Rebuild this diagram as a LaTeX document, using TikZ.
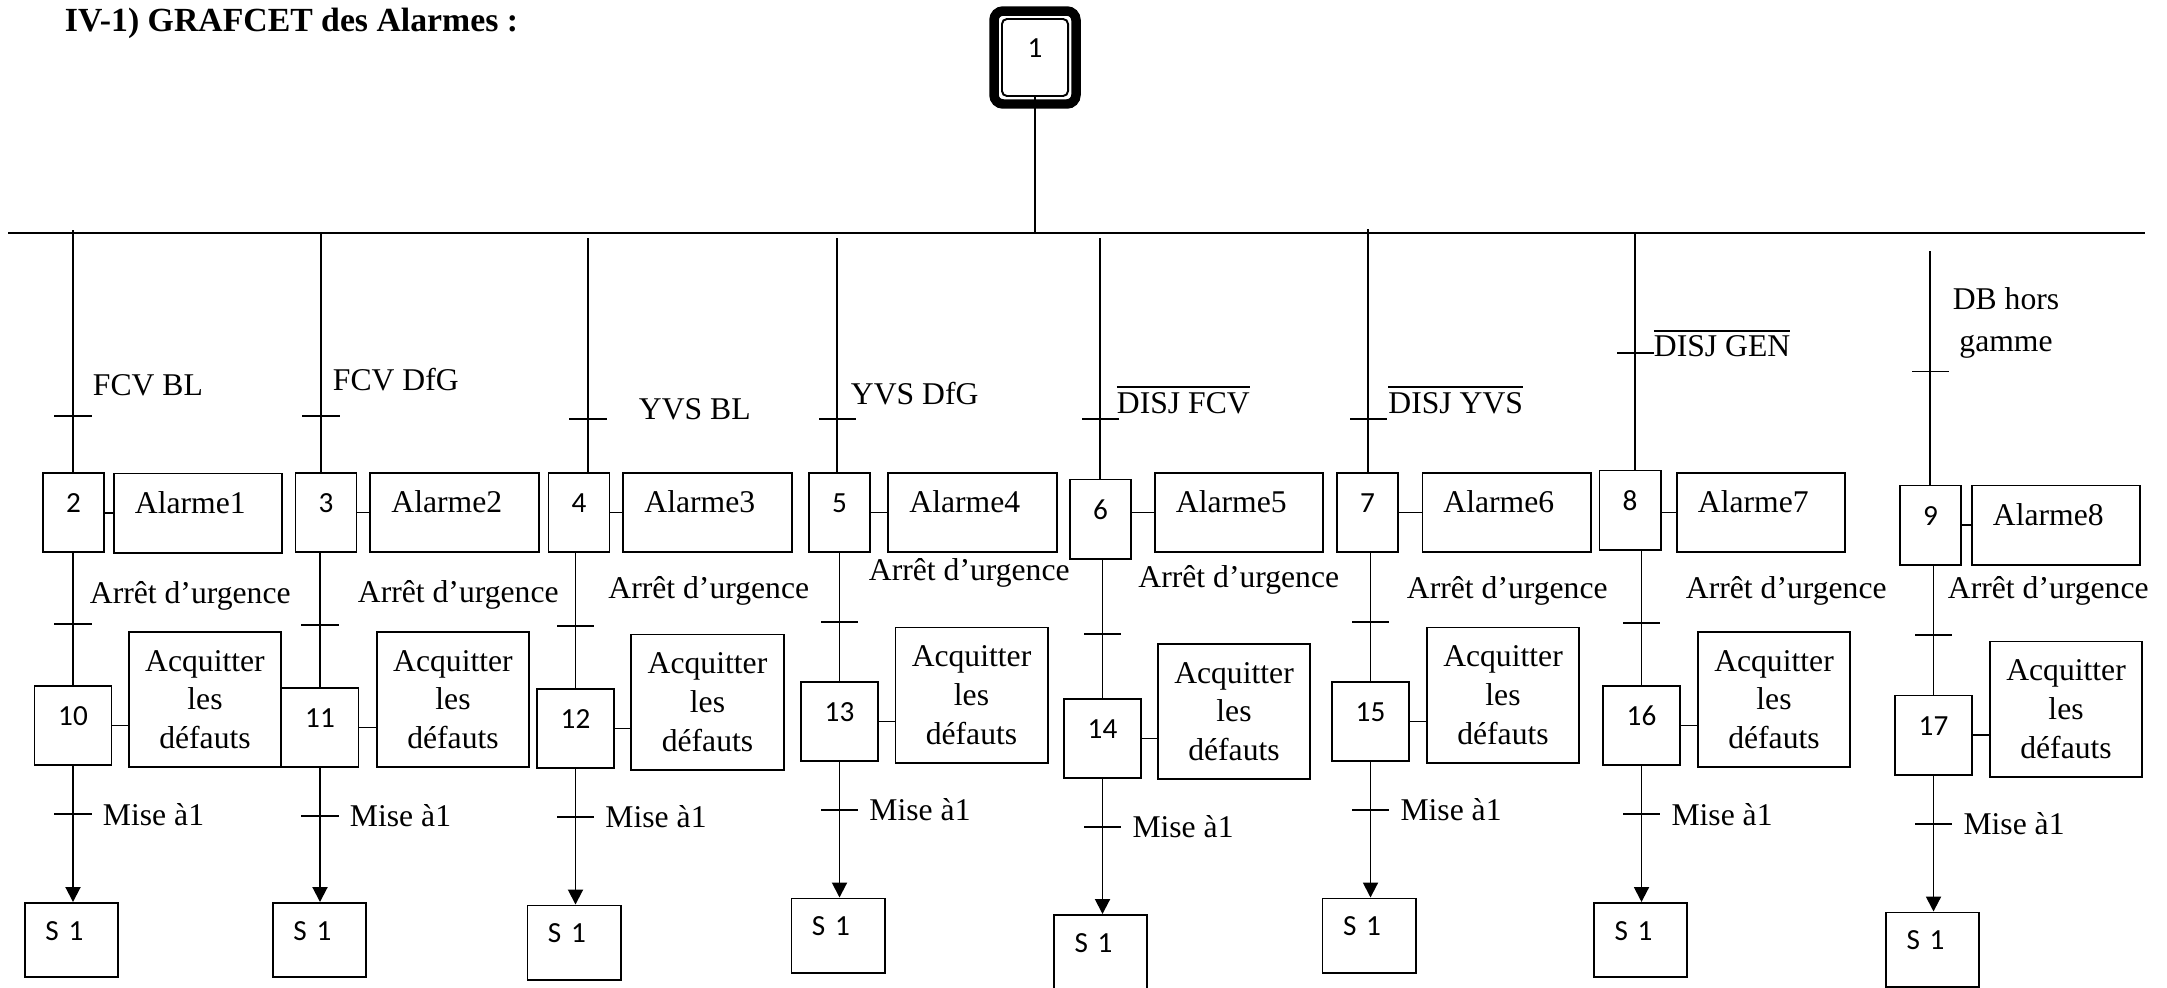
\documentclass[tikz,border=0pt]{standalone}
\usepackage{fontspec}
\setmainfont{Liberation Serif}
\newfontfamily\carlito{Carlito}
\usetikzlibrary{arrows.meta,positioning}

\begin{document}
\begin{tikzpicture}[x=0.01cm,y=-0.01cm,line width=0.55pt,font=\fontsize{9}{11}\selectfont,
    etape/.style={draw,minimum width=0.61cm,minimum height=0.79cm,inner sep=0pt,
      font=\carlito\fontsize{8.3}{10}\selectfont,text height=5.5pt,text depth=5.5pt},
    etapeb/.style={etape,minimum width=0.77cm},
    action/.style={draw,minimum width=1.68cm,minimum height=0.79cm,inner sep=0pt,
      text width=1.26cm,align=left,text height=6pt,text depth=6pt},
    acquit/.style={draw,minimum width=1.52cm,minimum height=1.35cm,inner sep=0pt,align=center},
    sortie/.style={etape,minimum width=0.93cm,minimum height=0.74cm,text width=0.52cm,align=left},
    trans/.style={fill,minimum width=0.37cm,minimum height=0.55pt,inner sep=0pt,outer sep=0pt},
    txt/.style={inner sep=0pt,anchor=base west}]
    \useasboundingbox (0,0) rectangle (2167,987);
    \node[txt,font=\bfseries\fontsize{9.6}{11}\selectfont] (titre) at (64,31.7) {IV-1) GRAFCET des Alarmes :};
    % etape initiale + divergence
    \node[etape,rounded corners=0.05cm,minimum width=0.66cm,minimum height=0.77cm] (e1) at (1035,57.5) {1};
    \draw[line width=2.7pt,rounded corners=0.09cm] ([shift={(-7,-7)}]e1.north west) rectangle ([shift={(7,7)}]e1.south east);
    \coordinate (bg) at (8,232.7);
    \coordinate (bd) at (2145,232.7);
    \draw (bg) -- (bd);
    \draw (e1.south) -- (e1.south |- bg);
    % alarmes
    \node[etape] (e2) at (73.5,512.5) {2};
    \node[etape] (e3) at (326,512.5) {3};
    \node[etape] (e4) at (579,512.5) {4};
    \node[etape] (e5) at (839.5,512.5) {5};
    \node[etape] (e6) at (1100.5,519) {6};
    \node[etape] (e7) at (1367.5,512.5) {7};
    \node[etape] (e8) at (1630,510) {8};
    \node[etape] (e9) at (1930.5,525) {9};
    \node[action] (a2) at (198,513) {Alarme1};
    \node[action] (a3) at (454.5,512.5) {Alarme2};
    \node[action] (a4) at (707.5,512.5) {Alarme3};
    \node[action] (a5) at (972.5,512.5) {Alarme4};
    \node[action] (a6) at (1239,512.5) {Alarme5};
    \node[action] (a7) at (1506.5,512.5) {Alarme6};
    \node[action] (a8) at (1761,512.5) {Alarme7};
    \node[action] (a9) at (2056,525) {Alarme8};
    % acquittement
    \node[etapeb] (e10) at (73,725.5) {10};
    \node[etapeb] (e11) at (320,727.5) {11};
    \node[etapeb] (e12) at (575.5,728.5) {12};
    \node[etapeb] (e13) at (839.5,721.5) {13};
    \node[etapeb] (e14) at (1102.5,738.5) {14};
    \node[etapeb] (e15) at (1370.5,721.5) {15};
    \node[etapeb] (e16) at (1641.5,725.5) {16};
    \node[etapeb] (e17) at (1933.5,735) {17};
    \node[acquit] (q10) at (205,699.5) {Acquitter\\les\\défauts};
    \node[acquit] (q11) at (453,699.5) {Acquitter\\les\\défauts};
    \node[acquit] (q12) at (707.5,702) {Acquitter\\les\\défauts};
    \node[acquit] (q13) at (971.5,695) {Acquitter\\les\\défauts};
    \node[acquit] (q14) at (1234,711.5) {Acquitter\\les\\défauts};
    \node[acquit] (q15) at (1503,695) {Acquitter\\les\\défauts};
    \node[acquit] (q16) at (1774,699.5) {Acquitter\\les\\défauts};
    \node[acquit] (q17) at (2066,709) {Acquitter\\les\\défauts};
    % renvois
    \node[sortie] (f10) at (71.5,940) {S 1};
    \node[sortie] (f11) at (319.5,940) {S 1};
    \node[sortie] (f12) at (574,942.5) {S 1};
    \node[sortie] (f13) at (838,935.5) {S 1};
    \node[sortie] (f14) at (1100.5,952) {S 1};
    \node[sortie] (f15) at (1369,935.5) {S 1};
    \node[sortie] (f16) at (1640.5,940) {S 1};
    \node[sortie] (f17) at (1932.5,949.5) {S 1};
    % receptivites
    \node[txt] (c2) at (92,395) {FCV BL};
    \node[txt] (c3) at (332,390) {FCV DfG};
    \node[txt] (c4) at (638,419) {YVS BL};
    \node[txt] (c5) at (850,404) {YVS DfG};
    \node[txt] (c6) at (1116,413) {$\overline{\mbox{DISJ FCV}}$};
    \node[txt] (c7) at (1387.5,413) {$\overline{\mbox{DISJ YVS}}$};
    \node[txt] (c8) at (1653,356.7) {$\overline{\mbox{DISJ GEN}}$};
    \node[inner sep=0pt,align=center,font=\fontsize{9}{12}\selectfont] (c9) at (2006,323) {DB hors\\gamme};
    \node[txt] (u2) at (89,603) {Arrêt d’urgence};
    \node[txt] (u3) at (357,602) {Arrêt d’urgence};
    \node[txt] (u4) at (607.5,598) {Arrêt d’urgence};
    \node[txt] (u5) at (868,580) {Arrêt d’urgence};
    \node[txt] (u6) at (1137.5,587) {Arrêt d’urgence};
    \node[txt] (u7) at (1406,598) {Arrêt d’urgence};
    \node[txt] (u8) at (1685,598) {Arrêt d’urgence};
    \node[txt] (u9) at (1947,598) {Arrêt d’urgence};
    \foreach \u/\x/\y/\p in {2/73/230/.768,3/321/232.7/.766,4/588/238/.774,5/837/238/.774,
      6/1100/238/.754,7/1368/229/.783,8/1635/233/.509,9/1930/251/.516}{
      \coordinate (h\u) at (\x,\y);
      \draw (h\u) -- (h\u |- e\u.north) node[trans,pos=\p] (th\u) {};
      \draw (a\u.west -| e\u.east) -- (a\u.west);}
    \foreach \u/\l in {2/10,3/11,4/12,5/13,6/14,7/15,8/16,9/17}{
      \draw (e\l.north |- e\u.south) -- (e\l.north) node[trans,pos=.54] (tm\l) {};
      \draw (e\l.east) -- (e\l.east -| q\l.west);
      \draw[-{Triangle[length=0.15cm,width=0.15cm]}] (e\l.south) -- (e\l.south |- f\l.north)
        node[trans,pos=.355] (tb\l) {};
      \node[right=0.105cm of tb\l,inner sep=0pt] (m\l) {Mise à1};}
  \end{tikzpicture}
\end{document}
